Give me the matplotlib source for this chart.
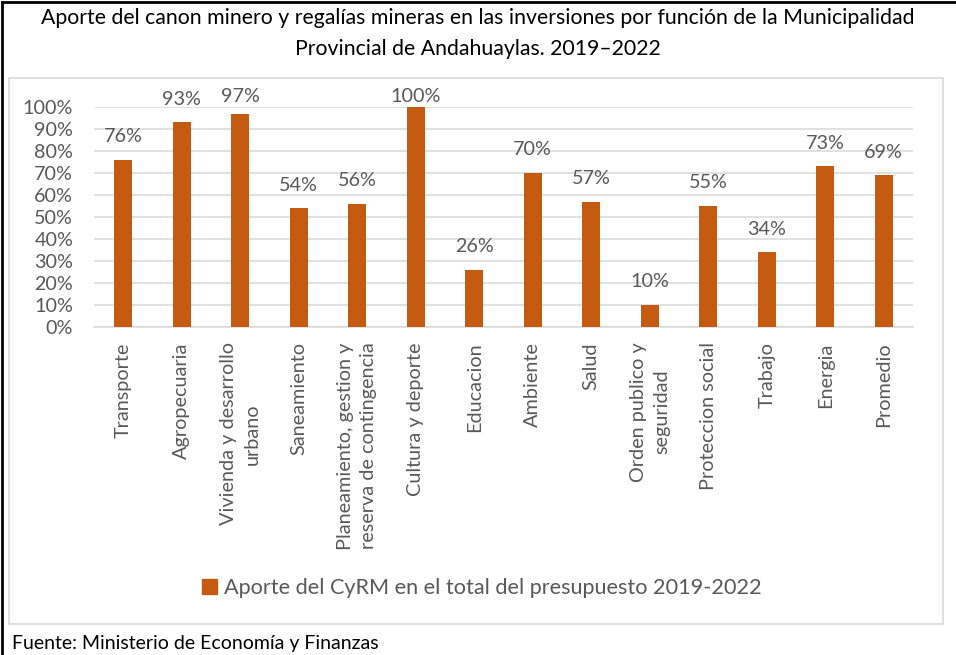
import matplotlib
matplotlib.use("Agg")
import matplotlib.pyplot as plt
from matplotlib.lines import Line2D
from matplotlib.patches import Rectangle, Patch
import numpy as np

categories = [
    "Transporte",
    "Agropecuaria",
    "Vivienda y desarrollo\nurbano",
    "Saneamiento",
    "Planeamiento, gestion y\nreserva de contingencia",
    "Cultura y deporte",
    "Educacion",
    "Ambiente",
    "Salud",
    "Orden publico y\nseguridad",
    "Proteccion social",
    "Trabajo",
    "Energia",
    "Promedio",
]
values = [76, 93, 97, 54, 56, 100, 26, 70, 57, 10, 55, 34, 73, 69]
yticks = [0, 10, 20, 30, 40, 50, 60, 70, 80, 90, 100]

series_name = "Aporte del CyRM en el total del presupuesto 2019-2022"
title = ("Aporte del canon minero y regalías mineras en las inversiones por función de la Municipalidad\n"
         "Provincial de Andahuaylas. 2019\u20132022")
source = "Fuente: Ministerio de Economía y Finanzas"

BAR = "#C55A11"
GREY = "#595959"
GRID = "#D9D9D9"

plt.rcParams["font.family"] = ["Lato", "DejaVu Sans"]

W, H = 956, 655
fig = plt.figure(figsize=(W / 100, H / 100), dpi=100)


def fx(px):
    return px / W


def fy(py):
    return 1 - py / H


# outer black frame (top and left)
fig.add_artist(Line2D([fx(2), fx(956)], [fy(2), fy(2)], color="black", lw=2))
fig.add_artist(Line2D([fx(2), fx(2)], [fy(2), fy(655)], color="black", lw=2))

# chart area frame
fig.add_artist(Rectangle((fx(9), fy(624)), fx(943) - fx(9), fy(78) - fy(624),
                         fill=False, edgecolor=GRID, lw=1.2))

fig.text(0.5, fy(8), title, ha="center", va="top", fontsize=15.3, color="black",
         linespacing=1.7)

ax = fig.add_axes([fx(94), fy(327), fx(913) - fx(94), fy(107) - fy(327)])
x = np.arange(len(categories))
bars = ax.bar(x, values, width=0.31, color=BAR, zorder=3)
ax.set_xlim(-0.5, len(categories) - 0.5)
ax.set_ylim(0, 100)
ax.set_yticks(yticks)
ax.set_yticklabels([f"{v}%" for v in yticks], fontsize=14.2, color=GREY)
ax.set_xticks(x)
ax.set_xticklabels(categories, rotation=90, fontsize=14.3, color=GREY,
                   ha="center", va="top", multialignment="center")
for lab in ax.get_xticklabels():
    lab.set_linespacing(1.45)
ax.tick_params(axis="both", length=0)
ax.tick_params(axis="y", pad=15)
ax.tick_params(axis="x", pad=11)
ax.yaxis.grid(True, color=GRID, lw=1.1, zorder=0)
for side in ["top", "right", "left"]:
    ax.spines[side].set_visible(False)
ax.spines["bottom"].set_color(GRID)
ax.spines["bottom"].set_linewidth(1.1)

# data labels sit above the bars, but are kept inside the plot area like Excel
for xi, v in zip(x, values):
    ax.text(xi, min(v + 10.5, 105), f"{v}%", ha="center", va="center",
            fontsize=14.2, color=GREY, clip_on=False)

fig.legend([Patch(color=BAR)], [series_name], loc="center",
           bbox_to_anchor=(fx(482), fy(588)), frameon=False, fontsize=15.6,
           labelcolor=GREY, handlelength=0.7, handleheight=0.7,
           handletextpad=0.3)

fig.text(fx(12), fy(644), source, ha="left", va="center", fontsize=14,
         color="black")

fig.savefig("out.png", dpi=100)
